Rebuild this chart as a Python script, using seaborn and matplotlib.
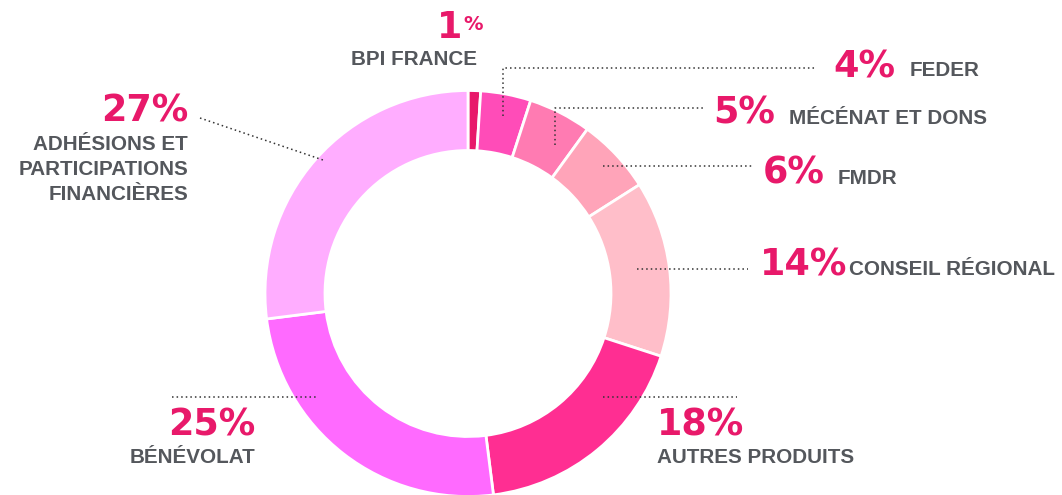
import matplotlib
matplotlib.use("Agg")
import matplotlib.pyplot as plt
import seaborn as sns

# ---- data ----
categories = ["BPI FRANCE", "FEDER", "MÉCÉNAT ET DONS", "FMDR", "CONSEIL RÉGIONAL",
              "AUTRES PRODUITS", "BÉNÉVOLAT", "ADHÉSIONS ET\nPARTICIPATIONS\nFINANCIÈRES"]
values = [1, 4, 5, 6, 14, 18, 25, 27]
pct_labels = ["1%", "4%", "5%", "6%", "14%", "18%", "25%", "27%"]
colors = ["#E8196A", "#FF4CB8", "#FF7BB2", "#FFA4B9", "#FFBEC9", "#FF2E92", "#FF6AFF", "#FFADFF"]

W, H = 1062, 495
PINK = "#E8196A"
GRAY = "#54575C"

sns.set_theme(style="white")
plt.rcParams["font.family"] = ["Liberation Sans", "DejaVu Sans"]

fig = plt.figure(figsize=(W / 100, H / 100), dpi=100)
ax = fig.add_axes([0, 0, 1, 1])

cx, cy = 468, H - 293.5
ax.pie(values, colors=sns.color_palette(colors), startangle=90, counterclock=False,
       radius=203, center=(cx, cy),
       wedgeprops=dict(width=60, edgecolor="white", linewidth=2), frame=True)
ax.set_xlim(0, W)
ax.set_ylim(0, H)
ax.set_aspect("equal")
ax.axis("off")

PCT_FONT = dict(family=["DejaVu Sans"], weight="bold", color=PINK, size=26.3)
LAB_FONT = dict(family=["Liberation Sans", "DejaVu Sans"], weight="bold", color=GRAY, size=14.9)


def Y(y):
    return H - y


# layout: (pct x, pct baseline, pct ha, label x, label baseline, label ha, leader points)
layout = [
    (462, 38, "right", 477, 65, "right", None),
    (833, 77, "left", 910, 76, "left", [(503, 116), (503, 68), (817, 68)]),
    (713, 123, "left", 789, 124, "left", [(555, 145), (555, 108), (705, 108)]),
    (763, 183, "left", 838, 184, "left", [(603, 166), (752, 166)]),
    (760, 275, "left", 849, 275, "left", [(637, 269), (748, 269)]),
    (657, 435, "left", 657, 463, "left", [(603, 397), (737, 397)]),
    (255, 435, "right", 255, 463, "right", [(172, 397), (318, 397)]),
    (188, 122, "right", 188, 150, "right", [(200, 118), (323, 160)]),
]

for i, (px, py, pha, lx, ly, lha, pts) in enumerate(layout):
    pct = pct_labels[i]
    if i == 0:
        ax.text(px, Y(py), pct[:-1], ha="right", va="baseline", **PCT_FONT)
        small = dict(PCT_FONT)
        small["size"] = 14
        ax.text(px + 1, Y(30), "%", ha="left", va="baseline", **small)
    else:
        ax.text(px, Y(py), pct, ha=pha, va="baseline", **PCT_FONT)
    for k, line in enumerate(categories[i].split("\n")):
        ax.text(lx, Y(ly + 25 * k), line, ha=lha, va="baseline", **LAB_FONT)
    if pts:
        xs = [p[0] for p in pts]
        ys = [Y(p[1]) for p in pts]
        ax.plot(xs, ys, color="#333333", linewidth=1.1, linestyle=(0, (1, 2)))

fig.savefig("out.png", dpi=100, facecolor="white")
